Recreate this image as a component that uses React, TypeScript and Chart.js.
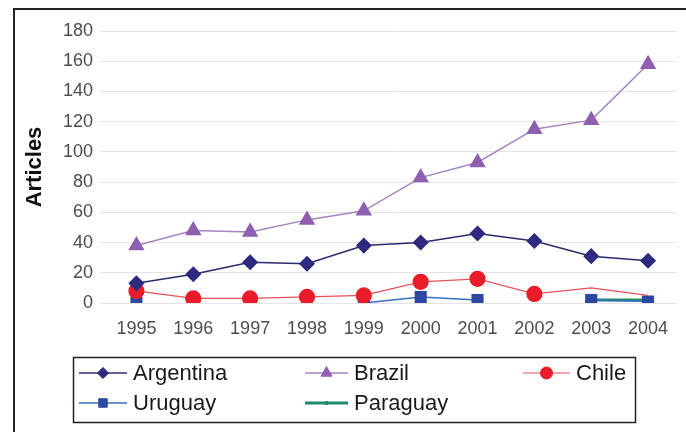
import React, { useEffect, useRef } from 'react';
import { Chart, registerables } from 'chart.js';
import { drawPoint } from 'chart.js/helpers';

Chart.register(...registerables);

const years = ['1995', '1996', '1997', '1998', '1999', '2000', '2001', '2002', '2003', '2004'];
const argentina = [13, 19, 27, 26, 38, 40, 46, 41, 31, 28];
const brazil = [38, 48, 47, 55, 61, 83, 93, 115, 121, 158];
const chile = [8, 3, 3, 4, 5, 14, 16, 6, 10, 5];
const uruguay = [0, null, 0, null, 0, 4, 2, null, 2, 1];
const paraguay = [null, null, null, null, null, null, null, null, 2, 2];
const yTicks = [0, 20, 40, 60, 80, 100, 120, 140, 160, 180];

const FONT = "'Liberation Sans', Arial, sans-serif";

const legendPlacement = [
  { x: 79, y: 373 },
  { x: 305, y: 373 },
  { x: 523, y: 373 },
  { x: 79, y: 403 },
  { x: 305, y: 403 },
];

const framePlugin = {
  id: 'frame',
  beforeDraw(chart: any) {
    const ctx = chart.ctx;
    ctx.save();
    ctx.fillStyle = '#ffffff';
    ctx.fillRect(0, 0, chart.width, chart.height);
    ctx.strokeStyle = '#222222';
    ctx.lineWidth = 2;
    ctx.beginPath();
    ctx.moveTo(14, 460);
    ctx.lineTo(14, 9);
    ctx.lineTo(720, 9);
    ctx.stroke();
    ctx.restore();
  },
  afterDraw(chart: any) {
    const ctx = chart.ctx;
    ctx.save();
    ctx.strokeStyle = '#222222';
    ctx.lineWidth = 1.5;
    ctx.strokeRect(73.5, 357.5, 562, 65);
    chart.data.datasets.forEach((ds: any, i: number) => {
      const p = legendPlacement[i];
      const lineW = i === 2 ? 47 : i >= 1 && i !== 3 ? 43 : 48;
      ctx.strokeStyle = ds.borderColor;
      ctx.lineWidth = ds.borderWidth;
      ctx.beginPath();
      ctx.moveTo(p.x, p.y);
      ctx.lineTo(p.x + lineW, p.y);
      ctx.stroke();
      const r = Array.isArray(ds.pointRadius) ? ds.pointRadius[0] : ds.pointRadius;
      ctx.fillStyle = ds.pointBackgroundColor;
      ctx.strokeStyle = ds.pointBorderColor;
      ctx.lineWidth = 1;
      drawPoint(ctx, { pointStyle: ds.pointStyle, radius: (r || 3) * 0.8, rotation: 0, borderWidth: 1 }, p.x + lineW / 2, p.y);
      ctx.fillStyle = '#1a1a1a';
      ctx.font = `22px ${FONT}`;
      ctx.textBaseline = 'middle';
      ctx.textAlign = 'left';
      ctx.fillText(ds.label, p.x + lineW + 6, p.y + 1);
    });
    ctx.restore();
  },
};

export default function App() {
  const ref = useRef<HTMLCanvasElement>(null);

  useEffect(() => {
    if (!ref.current) return;
    Chart.defaults.font.family = FONT;
    const chart = new Chart(ref.current, {
      type: 'line',
      data: {
        labels: years,
        datasets: [
          {
            label: 'Argentina',
            data: argentina,
            borderColor: '#2b2a6e',
            borderWidth: 1.5,
            pointStyle: 'rectRot',
            pointRadius: 7,
            pointBackgroundColor: '#2e2a80',
            pointBorderColor: '#2e2a80',
          },
          {
            label: 'Brazil',
            data: brazil,
            borderColor: '#a583c4',
            borderWidth: 1.5,
            pointStyle: 'triangle',
            pointRadius: 8,
            pointBackgroundColor: '#8f5fb0',
            pointBorderColor: '#8f5fb0',
          },
          {
            label: 'Chile',
            data: chile,
            borderColor: '#e8505a',
            borderWidth: 1.2,
            pointStyle: 'circle',
            pointRadius: [7.5, 7.5, 7.5, 7.5, 7.5, 7.5, 7.5, 7.5, 0, 0],
            pointBackgroundColor: '#ea1c2a',
            pointBorderColor: '#ea1c2a',
          },
          {
            label: 'Uruguay',
            data: uruguay,
            borderColor: '#3a6cc0',
            borderWidth: 1.5,
            pointStyle: 'rect',
            pointRadius: 7.5,
            pointBackgroundColor: '#2d48a0',
            pointBorderColor: '#2d48a0',
          },
          {
            label: 'Paraguay',
            data: paraguay,
            borderColor: '#1e8c6c',
            borderWidth: 3,
            pointStyle: 'rect',
            pointRadius: 2.5,
            pointBackgroundColor: '#1e8c6c',
            pointBorderColor: '#1e8c6c',
          },
        ],
      },
      options: {
        responsive: false,
        animation: false,
        devicePixelRatio: 1,
        spanGaps: false,
        layout: { padding: { left: 0, top: 31, right: 5, bottom: 0 } },
        plugins: {
          legend: { display: false },
          tooltip: { enabled: false },
        },
        scales: {
          x: {
            offset: true,
            grid: { display: false, drawTicks: false },
            border: { display: false },
            ticks: { color: '#4d4d4d', font: { size: 18 }, padding: 15, maxRotation: 0 },
            afterFit: (s: any) => {
              s.height = 129;
            },
          },
          y: {
            min: 0,
            max: 180,
            afterBuildTicks: (s: any) => {
              s.ticks = yTicks.map((v) => ({ value: v }));
            },
            grid: { color: '#e4e4e4', lineWidth: 1, drawTicks: true, tickLength: 8 },
            border: { display: false },
            ticks: { color: '#4d4d4d', font: { size: 18 }, padding: 7 },
            title: {
              display: true,
              text: 'Articles',
              color: '#111111',
              font: { size: 22, weight: 'bold' },
              padding: { top: 22, bottom: 0 },
            },
            afterFit: (s: any) => {
              s.width = 108;
            },
          },
        },
      },
      plugins: [framePlugin],
    });
    return () => chart.destroy();
  }, []);

  return (
    <div style={{ position: 'absolute', left: 0, top: 0, width: 686, height: 432, background: '#fff' }}>
      <canvas ref={ref} width={686} height={432} style={{ display: 'block' }} />
    </div>
  );
}
